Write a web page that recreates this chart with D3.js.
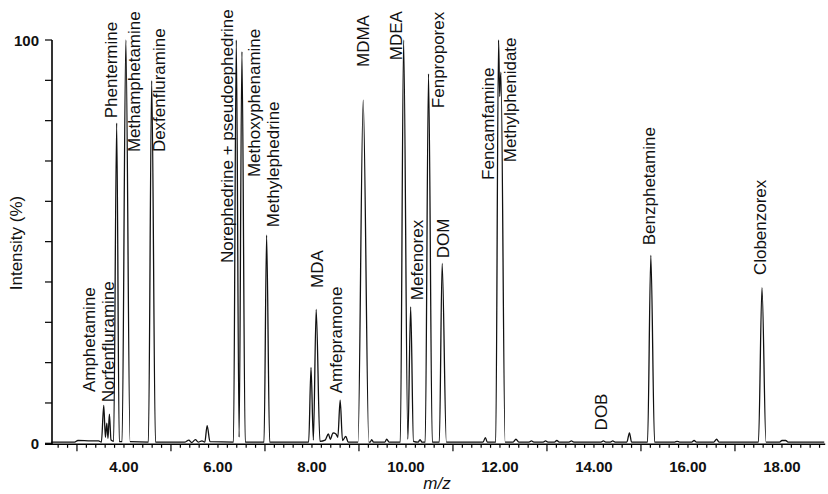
<!DOCTYPE html>
<html>
<head>
<meta charset="utf-8">
<script src="https://cdn.jsdelivr.net/npm/d3@7"></script>
<style>
  html, body { margin: 0; padding: 0; background: #fff; }
  svg { display: block; font-family: "Liberation Sans", Arial, Helvetica, sans-serif; }
</style>
</head>
<body>
<svg id="chart" width="828" height="494"></svg>
<script>
// ---- Data ----
const traceMz = [
  2.45, 2.95, 3.02, 3.30, 3.46, 3.52, 3.57, 3.605, 3.635, 3.66, 3.69, 3.725, 3.78,
  3.845, 3.90, 3.96, 4.04, 4.13, 4.52, 4.59, 4.67, 5.30, 5.38, 5.44, 5.52, 5.58,
  5.66, 5.72, 5.77, 5.83, 6.33, 6.39, 6.45, 6.51, 6.58, 6.98, 7.035, 7.10, 7.93,
  7.98, 8.03, 8.09, 8.17, 8.28, 8.35, 8.39, 8.45, 8.51, 8.55, 8.60, 8.65, 8.72,
  8.77, 8.98, 9.09, 9.21, 9.24, 9.27, 9.31, 9.55, 9.59, 9.64, 9.88, 9.95, 10.04,
  10.10, 10.16, 10.26, 10.30, 10.34, 10.41, 10.48, 10.56, 10.71, 10.77, 10.86,
  11.64, 11.69, 11.73, 11.91, 11.97, 11.995, 12.02, 12.11, 12.28, 12.34, 12.40,
  12.62, 12.67, 12.72, 12.92, 12.97, 13.02, 13.16, 13.21, 13.26, 13.47, 13.52,
  13.57, 14.15, 14.20, 14.25, 14.35, 14.40, 14.45, 14.70, 14.755, 14.80, 15.14,
  15.21, 15.29, 15.72, 15.77, 15.82, 16.08, 16.13, 16.18, 16.55, 16.61, 16.66,
  17.50, 17.575, 17.66, 17.95, 18.00, 18.08, 18.13, 18.90
];
const traceIntensity = [
  0.3, 0.3, 0.7, 0.6, 0.6, 0.3, 9.4, 1.5, 5.0, 1.2, 7.2, 0.8, 0.5,
  79.4, 0.4, 0.4, 100, 0.4, 0.3, 89.9, 0.3, 0.3, 0.8, 0.2, 0.9, 0.3,
  0.6, 0.3, 4.4, 0.4, 0.3, 100, 1.5, 97.1, 0.3, 0.3, 51.6, 0.3, 0.3,
  18.8, 0.8, 33.2, 0.5, 0.8, 2.3, 1.0, 2.6, 2.3, 1.5, 10.7, 0.7, 1.7,
  0.3, 0.3, 85.1, 0.3, 0.3, 0.9, 0.3, 0.3, 1.0, 0.3, 0.3, 100, 1.0,
  33.8, 0.5, 0.3, 0.9, 0.3, 0.3, 91.6, 0.3, 0.3, 44.6, 0.3,
  0.3, 1.4, 0.3, 0.3, 100, 86, 92, 0.3, 0.3, 1.0, 0.3,
  0.3, 0.6, 0.3, 0.3, 0.6, 0.3, 0.3, 0.7, 0.3, 0.3, 0.6,
  0.3, 0.3, 0.6, 0.3, 0.3, 0.6, 0.3, 0.3, 2.6, 0.3, 0.3,
  46.6, 0.3, 0.3, 0.5, 0.3, 0.3, 0.7, 0.3, 0.3, 1.0, 0.3,
  0.3, 38.6, 0.3, 0.3, 0.7, 0.7, 0.3, 0.3
];

const compoundNames = [
  "Amphetamine", "Norfenfluramine", "Phentermine", "Methamphetamine", "Dexfenfluramine",
  "Norephedrine + pseudoephedrine", "Methoxyphenamine", "Methylephedrine", "MDA",
  "Amfepramone", "MDMA", "MDEA", "Mefenorex", "Fenproporex", "DOM", "Fencamfamine",
  "Methylphenidate", "DOB", "Benzphetamine", "Clobenzorex"
];
// label anchor: m/z of label centre line, intensity at label's lower end
const labelMz = [
  3.255, 3.66, 3.723, 4.213, 4.745, 6.181, 6.766, 7.17, 8.096, 8.511,
  9.074, 9.787, 10.223, 10.67, 10.787, 11.734, 12.213, 14.15, 15.16, 17.532
];
const labelIntensity = [
  12.7, 10.2, 80.6, 72.2, 72.2, 44.7, 66.0, 53.6, 38.5, 12.4,
  93.3, 95.0, 35.5, 83.1, 45.9, 65.3, 69.7, 3.2, 49.1, 41.7
];

const xTickValues = [4, 6, 8, 10, 12, 14, 16, 18];
const yTickLabels = [0, 100];
const xTitle = "m/z";
const yTitle = "Intensity (%)";

// ---- Drawing ----
const svg = d3.select("#chart");
const x = d3.scaleLinear().domain([2.32, 18.92]).range([45, 825.2]);
const y = d3.scaleLinear().domain([0, 100]).range([443.3, 40]);
const axisY = 444.3;
const axisX = 52;

// chromatogram trace
const pts = traceMz.map((m, i) => [m, traceIntensity[i]]);
const line = d3.line()
  .x(d => x(d[0]))
  .y(d => y(d[1]))
  .curve(d3.curveMonotoneX);
svg.append("path")
  .datum(pts)
  .attr("d", line)
  .attr("fill", "none")
  .attr("stroke", "#111")
  .attr("stroke-width", 1.3)
  .attr("stroke-linejoin", "round");

// x axis
const gx = svg.append("g");
gx.append("line")
  .attr("x1", x.range()[0]).attr("x2", x.range()[1])
  .attr("y1", axisY).attr("y2", axisY)
  .attr("stroke", "#000").attr("stroke-width", 1.6);
const minorTicks = d3.range(13, 95).map(k => k / 5).filter(v => v >= 2.5 && v <= 18.85);
gx.selectAll("line.tick")
  .data(minorTicks)
  .join("line")
  .attr("class", "tick")
  .attr("x1", d => x(d)).attr("x2", d => x(d))
  .attr("y1", axisY)
  .attr("y2", d => (Math.abs(d - Math.round(d)) < 1e-6 && Math.round(d) % 2 === 1) ? axisY + 7 : axisY + 3.5)
  .attr("stroke", "#000").attr("stroke-width", 1.2);
gx.selectAll("text")
  .data(xTickValues)
  .join("text")
  .attr("x", d => x(d))
  .attr("y", 472)
  .attr("text-anchor", "middle")
  .attr("font-size", 15)
  .attr("font-weight", "bold")
  .attr("fill", "#111")
  .text(d => d3.format(".2f")(d));

// y axis
const gy = svg.append("g");
gy.append("line")
  .attr("x1", axisX).attr("x2", axisX)
  .attr("y1", y(100)).attr("y2", axisY)
  .attr("stroke", "#000").attr("stroke-width", 1.6);
gy.selectAll("line.tick")
  .data(d3.range(0, 101, 10))
  .join("line")
  .attr("class", "tick")
  .attr("x1", axisX - 7).attr("x2", axisX)
  .attr("y1", d => y(d)).attr("y2", d => y(d))
  .attr("stroke", "#000").attr("stroke-width", 1.2);
gy.selectAll("text")
  .data(yTickLabels)
  .join("text")
  .attr("x", 39)
  .attr("y", d => y(d) + 5.5)
  .attr("text-anchor", "end")
  .attr("font-size", 15)
  .attr("font-weight", "bold")
  .attr("fill", "#111")
  .text(d => d);

// axis titles
svg.append("text")
  .attr("x", 437).attr("y", 489)
  .attr("text-anchor", "middle")
  .attr("font-size", 17)
  .attr("font-style", "italic")
  .attr("fill", "#111")
  .text(xTitle);
svg.append("text")
  .attr("transform", "translate(16,243) rotate(-90)")
  .attr("dy", "0.35em")
  .attr("text-anchor", "middle")
  .attr("font-size", 17)
  .attr("fill", "#111")
  .text(yTitle);

// compound labels
svg.append("g").selectAll("text")
  .data(compoundNames)
  .join("text")
  .attr("transform", (d, i) => `translate(${x(labelMz[i])},${y(labelIntensity[i])}) rotate(-90)`)
  .attr("dy", "0.36em")
  .attr("text-anchor", "start")
  .attr("font-size", 17)
  .attr("fill", "#111")
  .text(d => d);
</script>
</body>
</html>
